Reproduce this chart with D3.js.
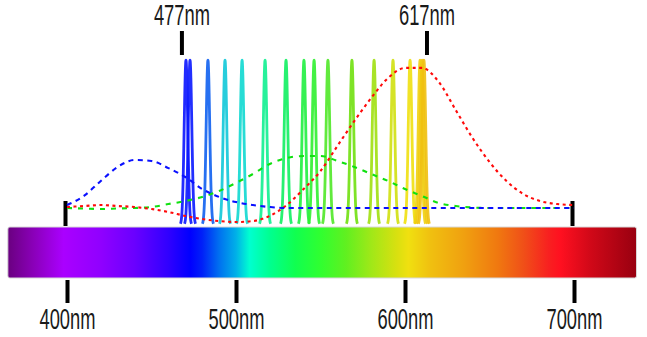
<!DOCTYPE html>
<html><head><meta charset="utf-8">
<script src="https://cdn.jsdelivr.net/npm/d3@7"></script>
<style>html,body{margin:0;padding:0;background:#fff;}svg{display:block;}</style>
</head><body>
<svg id="chart" width="647" height="337"></svg>
<script>
// ---- data ----
const axisTicks = [400, 500, 600, 700];
const axisTickLabels = ["400nm", "500nm", "600nm", "700nm"];
const sideTicks = [400, 700];
const markerWavelengths = [468, 613];
const markerLabels = ["477nm", "617nm"];

const spikeWavelengths = [470.4, 472.8, 483.4, 493.5, 503.6, 517.2, 529.6, 540.2, 546.2, 554.4, 568.6, 581.7, 592.9, 603.0, 608.9, 610.1, 611.2];
const spikeColors = ["#0a14ff", "#0a18ff", "#1060f0", "#10c8d8", "#10d8d0", "#10f090", "#10f060", "#20f040", "#30f030", "#50e828", "#70e010", "#a0e010", "#d0e010", "#f0e010", "#f0d010", "#f0c810", "#f0c010"];

const curveWavelengths = [400, 410, 420, 430, 440, 450, 460, 470, 480, 490, 500, 510, 520, 530, 540, 550, 560, 570, 580, 590, 600, 610, 620, 630, 640, 650, 660, 670, 680, 690, 700];
const blueCurve  = [12.1, 17.6, 26.7, 35.2, 39.4, 38.8, 34.5, 29.1, 21.8, 17.0, 13.9, 12.1, 10.9, 10.3, 10.3, 10.3, 10.3, 10.3, 10.3, 10.3, 10.3, 10.3, 10.3, 10.3, 10.3, 10.3, 10.3, 10.3, 10.3, 10.3, 10.3];
const greenCurve = [10.3, 10.0, 9.7, 10.0, 10.3, 10.9, 12.7, 14.5, 17.0, 20.6, 25.5, 30.9, 37.0, 40.6, 41.8, 41.8, 38.8, 35.2, 30.9, 26.7, 21.8, 17.6, 13.3, 11.5, 10.6, 10.3, 10.3, 10.3, 10.3, 10.3, 10.3];
const redCurve   = [10.9, 11.5, 12.1, 11.5, 10.9, 9.7, 7.9, 5.5, 3.6, 2.4, 1.8, 2.4, 5.5, 12.1, 21.8, 32.7, 47.9, 63.0, 77.0, 89.1, 95.2, 95.2, 86.7, 69.7, 52.7, 38.2, 26.7, 18.8, 14.5, 12.7, 12.1];

const spectrumStops = [365, 380, 398, 420, 440, 460, 473, 480, 490, 500, 508, 520, 535, 550, 565, 580, 595, 602, 615, 635, 655, 670, 685, 692, 710, 737];
const spectrumColors = ["#6a0080", "#8a00b8", "#aa00ff", "#9000ff", "#6a00ff", "#3000ff", "#0000ff", "#0020f8", "#0070f0", "#00b0e8", "#00ffd0", "#00ff90", "#10ff50", "#30ff30", "#60f020", "#a0e818", "#d8e010", "#f0e010", "#f0c010", "#f0a010", "#f07810", "#f05018", "#f82020", "#ff1020", "#d00818", "#980010"];
const spectrumRange = [365, 737];

// ---- scales ----
const svg = d3.select("#chart");
const x = d3.scaleLinear().domain([400, 700]).range([67, 574]);
const y = d3.scaleLinear().domain([0, 100]).range([225, 60]);
const barTop = 227, barBottom = 278;
const font = "'Liberation Sans Narrow', 'Liberation Sans', sans-serif";

// ---- spectrum bar ----
const defs = svg.append("defs");
const grad = defs.append("linearGradient").attr("id", "spec")
  .attr("gradientUnits", "userSpaceOnUse")
  .attr("x1", x(spectrumRange[0])).attr("x2", x(spectrumRange[1])).attr("y1", 0).attr("y2", 0);
spectrumStops.forEach((w, i) => {
  grad.append("stop")
    .attr("offset", (w - spectrumRange[0]) / (spectrumRange[1] - spectrumRange[0]))
    .attr("stop-color", spectrumColors[i]);
});
svg.append("rect")
  .attr("x", x(spectrumRange[0])).attr("y", barTop)
  .attr("width", x(spectrumRange[1]) - x(spectrumRange[0])).attr("height", barBottom - barTop)
  .attr("rx", 2).attr("fill", "url(#spec)")
  .attr("stroke", "#d8d8d8").attr("stroke-width", 1);

// ---- bottom axis ----
const axis = d3.axisBottom(x).tickValues(axisTicks)
  .tickFormat((d, i) => axisTickLabels[i]).tickSize(23).tickPadding(5);
const gAxis = svg.append("g").attr("transform", `translate(0,${barBottom + 2})`).call(axis);
gAxis.select(".domain").remove();
gAxis.selectAll(".tick line").attr("stroke", "#000").attr("stroke-width", 4);
gAxis.selectAll(".tick text")
  .attr("font-family", font).attr("font-size", 29).attr("fill", "#1a1a1a")
  .attr("textLength", 56).attr("lengthAdjust", "spacingAndGlyphs");

// ---- side ticks above bar ----
svg.selectAll("line.side").data(sideTicks).join("line").attr("class", "side")
  .attr("x1", d => x(d) - 1.5).attr("x2", d => x(d) - 1.5)
  .attr("y1", 201).attr("y2", barTop - 1)
  .attr("stroke", "#000").attr("stroke-width", 4);

// ---- top markers ----
svg.selectAll("line.marker").data(markerWavelengths).join("line").attr("class", "marker")
  .attr("x1", d => x(d)).attr("x2", d => x(d))
  .attr("y1", 31).attr("y2", 55)
  .attr("stroke", "#000").attr("stroke-width", 4);
svg.selectAll("text.marker").data(markerWavelengths).join("text").attr("class", "marker")
  .attr("x", d => x(d)).attr("y", 25)
  .attr("text-anchor", "middle")
  .attr("font-family", font).attr("font-size", 29).attr("fill", "#1a1a1a")
  .attr("textLength", 56).attr("lengthAdjust", "spacingAndGlyphs")
  .text((d, i) => markerLabels[i]);

// ---- spikes ----
const sigma = 1.05;
const spikeLine = d3.line().x(d => x(d[0])).y(d => y(d[1])).curve(d3.curveBasis);
spikeWavelengths.forEach((c, i) => {
  const pts = d3.range(-3.3, 3.31, 0.1).map(o => [c + o, 100 * Math.exp(-(o * o) / (2 * sigma * sigma))]);
  svg.append("path").attr("d", spikeLine(pts))
    .attr("fill", "none").attr("stroke", spikeColors[i])
    .attr("stroke-width", 2.8).attr("stroke-opacity", 0.9);
});

// ---- dashed curves ----
const curveLine = d3.line().x((d, i) => x(curveWavelengths[i])).y(d => y(d)).curve(d3.curveMonotoneX);
const curves = [
  { data: greenCurve, color: "#10e010", dash: "5,6" },
  { data: redCurve, color: "#ff0a0a", dash: "3,3.5" },
  { data: blueCurve, color: "#0a10ff", dash: "5,4.5" }
];
curves.forEach(c => {
  svg.append("path").attr("d", curveLine(c.data))
    .attr("fill", "none").attr("stroke", c.color)
    .attr("stroke-width", 2.1).attr("stroke-dasharray", c.dash);
});
</script>
</body></html>
